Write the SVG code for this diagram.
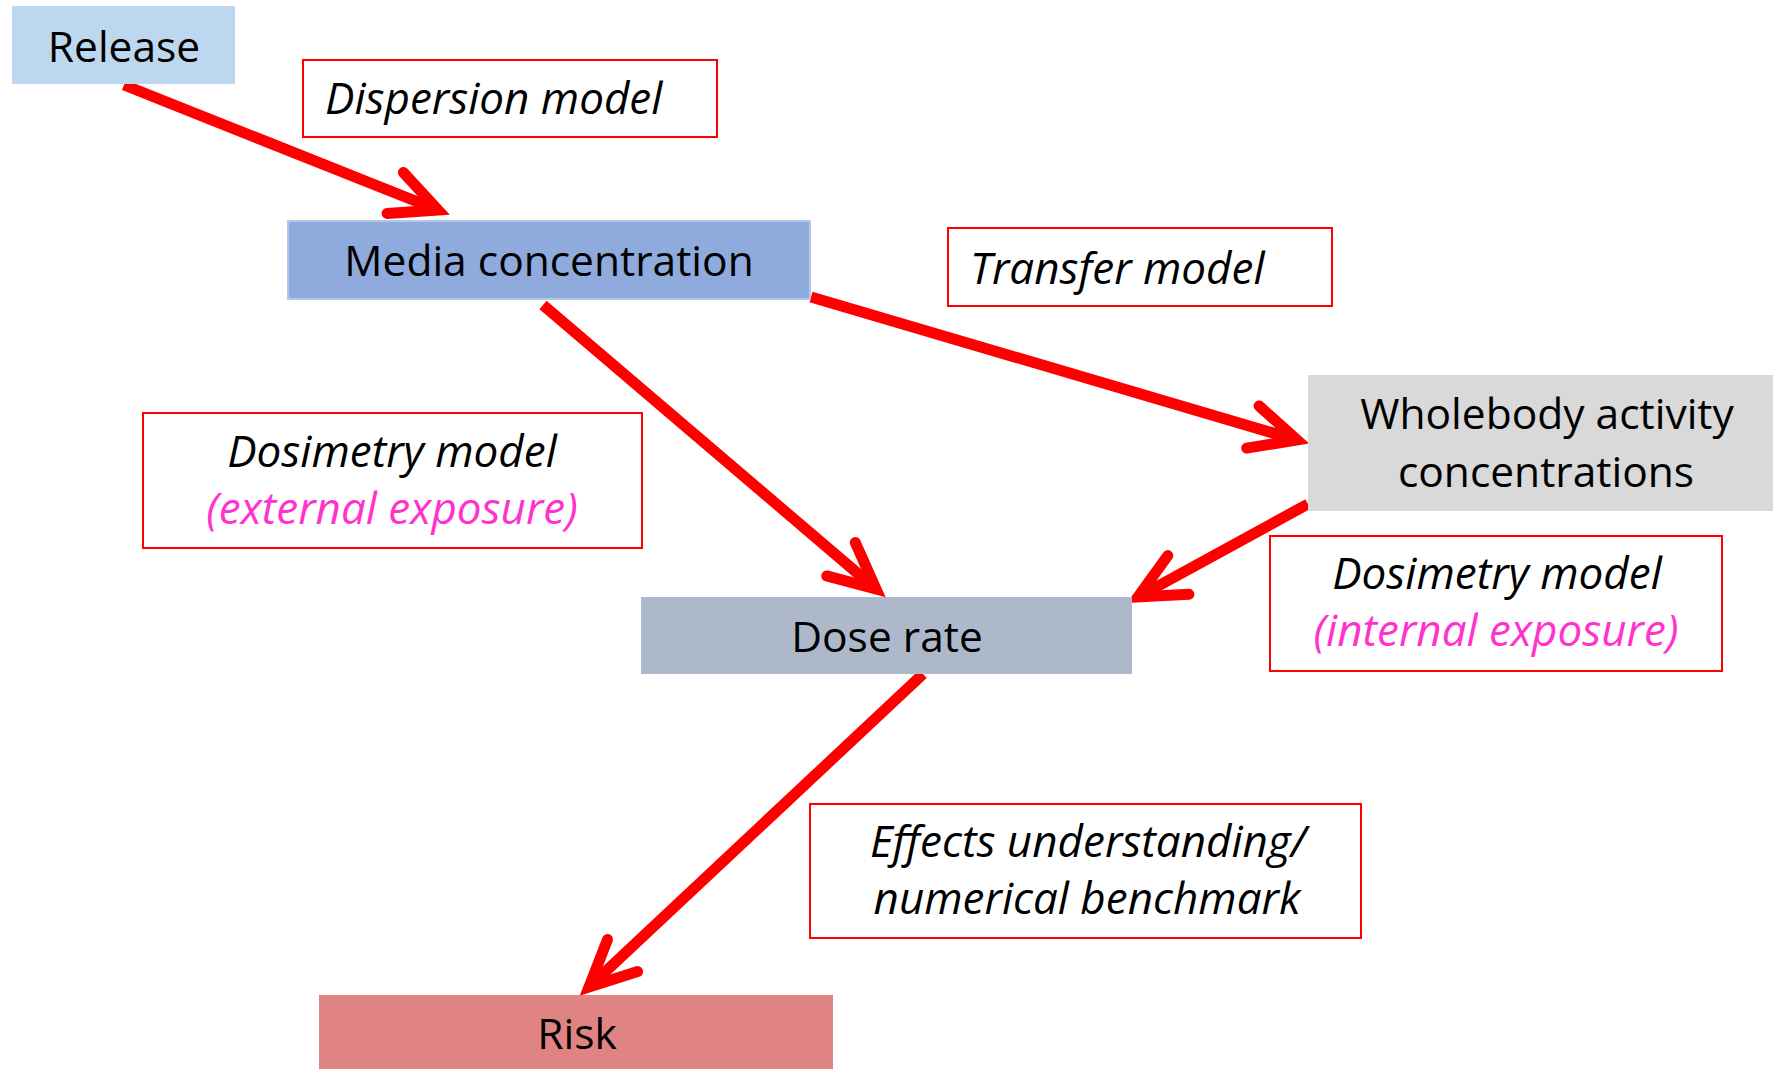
<svg xmlns="http://www.w3.org/2000/svg" width="1773" height="1069" viewBox="0 0 1773 1069">
<style>
.node text{font-family:"Open Sans","Noto Sans",sans-serif;font-size:42.5px;fill:#000;text-anchor:middle}
.lbl rect{fill:#fff;stroke:#ff0000;stroke-width:2}
.lbl text{font-family:"Open Sans","Noto Sans",sans-serif;font-size:44px;font-style:italic;fill:#000;text-anchor:middle}
.lbl .pink{fill:#ff33cc}
.conn{fill:none;stroke:#ff0000;stroke-width:11;stroke-linecap:butt;marker-end:url(#ah)}
</style>
<defs>
<marker id="ah" viewBox="-60 -30 70 60" refX="0" refY="0" markerWidth="70" markerHeight="60" markerUnits="userSpaceOnUse" orient="auto" overflow="visible">
<path d="M-46,-22 L0,0 L-46,22" fill="none" stroke="#ff0000" stroke-width="11" stroke-linecap="round" stroke-linejoin="miter"/>
</marker>
</defs>
<rect width="1773" height="1069" fill="#fff"/>
<g id="connectors">
<line class="conn" x1="124" y1="85" x2="438" y2="210"/>
<line class="conn" x1="811" y1="297" x2="1297" y2="440"/>
<line class="conn" x1="543" y1="305" x2="876" y2="589"/>
<line class="conn" x1="1308" y1="504" x2="1138" y2="597"/>
<line class="conn" x1="923" y1="674" x2="589" y2="987"/>
</g>
<g id="release" class="node"><rect x="12" y="6" width="223" height="78" fill="#bdd7ee"/><text x="124" y="62">Release</text></g>
<g id="media" class="node"><rect x="288" y="221" width="522" height="78" fill="#8faadc" stroke="#b4c7e7" stroke-width="2"/><text x="549" y="276">Media concentration</text></g>
<g id="wholebody" class="node"><rect x="1308" y="375" width="470" height="136" fill="#d9d9d9"/><text x="1547" y="429">Wholebody activity</text><text x="1546" y="487">concentrations</text></g>
<g id="dose" class="node"><rect x="641" y="597" width="491" height="77" fill="#adb9ca"/><text x="887" y="652">Dose rate</text></g>
<g id="risk" class="node"><rect x="319" y="995" width="514" height="80" fill="#e08383"/><text x="577" y="1049">Risk</text></g>
<g id="lbl-dispersion" class="lbl"><rect x="303" y="60" width="414" height="77"/><text x="325" y="114" style="text-anchor:start">Dispersion model</text></g>
<g id="lbl-transfer" class="lbl"><rect x="948" y="228" width="384" height="78"/><text x="970" y="284" style="text-anchor:start">Transfer model</text></g>
<g id="lbl-dos-ext" class="lbl"><rect x="143" y="413" width="499" height="135"/><text x="392" y="467">Dosimetry model</text><text class="pink" x="392" y="524">(external exposure)</text></g>
<g id="lbl-dos-int" class="lbl"><rect x="1270" y="536" width="452" height="135"/><text x="1497" y="589">Dosimetry model</text><text class="pink" x="1496" y="646">(internal exposure)</text></g>
<g id="lbl-effects" class="lbl"><rect x="810" y="804" width="551" height="134"/><text x="1088" y="857">Effects understanding/</text><text x="1087" y="914">numerical benchmark</text></g>
</svg>
